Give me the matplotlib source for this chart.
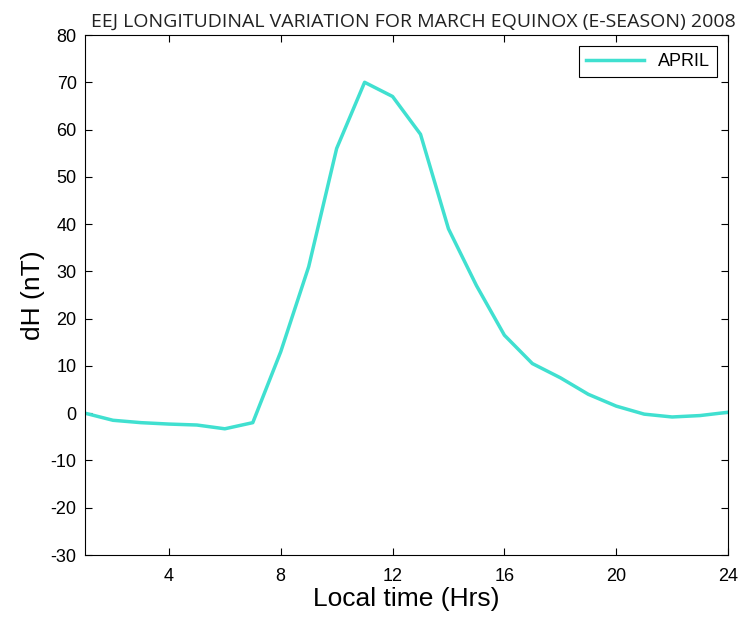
import matplotlib
matplotlib.use("Agg")
import matplotlib.pyplot as plt

plt.rcParams["axes.unicode_minus"] = False

hours = list(range(1, 25))
dH_april = [0, -1.5, -2.0, -2.3, -2.5, -3.3, -2.0, 13, 31, 56, 70, 67, 59, 39, 27, 16.5,
            10.5, 7.5, 4.0, 1.5, -0.2, -0.8, -0.5, 0.2]
xticks = [4, 8, 12, 16, 20, 24]
yticks = list(range(-30, 81, 10))

fig = plt.figure(figsize=(7.42, 6.22), dpi=100)
ax = fig.add_axes([0.1146, 0.1077, 0.8666, 0.836])
ax.plot(hours, dH_april, color="#40E0D0", linewidth=2.5, label="APRIL")
ax.set_xlim(1, 24)
ax.set_ylim(-30, 80)
ax.set_xticks(xticks)
ax.set_yticks(yticks)
ax.tick_params(direction="in", top=True, right=True, length=5, labelsize=13)
ax.tick_params(axis="x", pad=9)
ax.tick_params(axis="y", pad=6)
for lab in ax.get_xticklabels() + ax.get_yticklabels():
    lab.set_fontfamily("Liberation Sans")
ax.set_xlabel("Local time (Hrs)", fontsize=19, family="Liberation Sans", labelpad=2)
ax.set_ylabel("dH (nT)", fontsize=19, family="Liberation Sans", labelpad=4)
fig.text(736 / 742, 1 - 27 / 622,
         "EEJ LONGITUDINAL VARIATION FOR MARCH EQUINOX (E-SEASON) 2008",
         fontsize=14, family="Open Sans", ha="right", va="baseline", color="#222222")
leg = ax.legend(loc="upper right", fancybox=False, edgecolor="black", framealpha=1,
                prop={"family": "Liberation Sans", "size": 13}, handlelength=3.2,
                borderaxespad=0.6)
leg.get_frame().set_linewidth(0.8)
fig.savefig("out.png", dpi=100)
